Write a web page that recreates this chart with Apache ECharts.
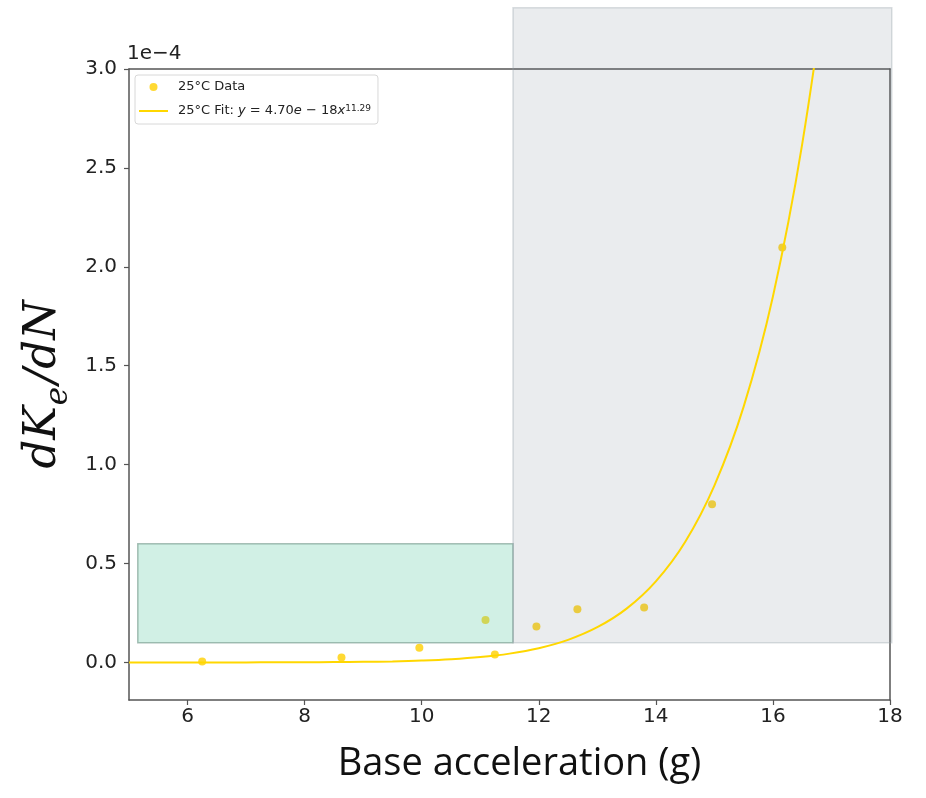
<!DOCTYPE html>
<html>
<head>
<meta charset="utf-8">
<script src="https://cdn.jsdelivr.net/npm/echarts@6/dist/echarts.min.js"></script>
<style>
html,body{margin:0;padding:0;background:#fff;}
#chart{width:926px;height:798px;}
</style>
</head>
<body>
<div id="chart"></div>
<script>
// ---- data (y values in units of 1e-4) ----
const dataX = [6.25, 8.63, 9.96, 11.09, 11.25, 11.96, 12.66, 13.80, 14.96, 16.16];
const dataY = [0.005, 0.025, 0.074, 0.215, 0.040, 0.182, 0.269, 0.278, 0.799, 2.098];
const fitX = [5, 5.5, 6, 6.5, 7, 7.5, 8, 8.5, 9, 9.5, 10, 10.5, 11, 11.5, 12, 12.5, 13, 13.5, 14, 14.5, 15, 15.5, 16, 16.5, 17];
const fitY = [0.0000, 0.0000, 0.0000, 0.0001, 0.0002, 0.0004, 0.0007, 0.0015, 0.0028, 0.0051, 0.0092, 0.0159, 0.0269, 0.0445, 0.0719, 0.114, 0.178, 0.272, 0.410, 0.609, 0.894, 1.293, 1.85, 2.62, 3.66];
// shaded regions: [x0, x1, y0, y1]
const regionGreen = [5.15, 11.56, 0.10, 0.60];
const regionGrey = [11.56, 18.03, 0.10, 3.31];
const xTicks = [6, 8, 10, 12, 14, 16, 18];
const yTicks = [0.0, 0.5, 1.0, 1.5, 2.0, 2.5, 3.0];
const dataName = '25°C Data';
const fitName = '25°C Fit';

const chart = echarts.init(document.getElementById('chart'));
const axisColor = '#555';
const regionStyles = [
  {fill: 'rgba(102,205,170,0.30)', stroke: 'rgba(100,140,125,0.55)'},
  {fill: 'rgba(112,128,144,0.15)', stroke: 'rgba(150,160,170,0.35)'}
];

chart.setOption({
  animation: false,
  backgroundColor: '#fff',
  title: {
    text: '1e\u22124', left: 127, top: 44, padding: 0,
    textStyle: {fontFamily: 'DejaVu Sans', fontSize: 20, fontWeight: 'normal', color: '#222'}
  },
  grid: {left: 129, right: 36, top: 69, bottom: 98, containLabel: false},
  legend: {
    left: 135, top: 75, orient: 'vertical',
    padding: [5, 7, 6, 4],
    itemWidth: 29, itemHeight: 8, itemGap: 10,
    borderColor: '#d8d8d8', borderWidth: 1, borderRadius: 3,
    backgroundColor: 'rgba(255,255,255,0.85)',
    textStyle: {
      fontFamily: 'DejaVu Sans', fontSize: 13, lineHeight: 14, color: '#222', padding: [0, 0, 0, 5],
      rich: {
        i: {fontFamily: 'DejaVu Sans', fontStyle: 'italic', fontSize: 13, color: '#222'},
        sup: {fontFamily: 'DejaVu Sans', fontSize: 9, color: '#222', verticalAlign: 'top', padding: [0, 0, 7, 0]}
      }
    },
    data: [
      {name: dataName, icon: 'circle', itemStyle: {color: '#FFD000'}},
      {name: fitName, icon: 'path://M0,0 L100,0 L100,7 L0,7 Z', itemStyle: {color: '#FFD700'}}
    ],
    formatter: function (name) {
      if (name === fitName) return name + ': {i|y} = 4.70{i|e} \u2212 18{i|x}{sup|11.29}';
      return name;
    }
  },
  xAxis: [{
    type: 'value', min: 5, max: 18, position: 'bottom',
    name: 'Base acceleration (g)', nameLocation: 'middle', nameGap: 45,
    nameTextStyle: {fontFamily: 'Open Sans', fontSize: 38, color: '#111', padding: [0, 0, 0, 20]},
    axisLine: {show: true, onZero: false, lineStyle: {color: axisColor, width: 1.5}},
    axisTick: {show: true, length: 5, customValues: xTicks, lineStyle: {color: axisColor, width: 1.2}},
    axisLabel: {customValues: xTicks, margin: 7, fontFamily: 'DejaVu Sans', fontSize: 20, color: '#222'},
    splitLine: {show: false}
  }, {
    type: 'value', min: 5, max: 18, position: 'top',
    axisLine: {show: true, onZero: false, lineStyle: {color: axisColor, width: 1.5}},
    axisTick: {show: false}, axisLabel: {show: false}, splitLine: {show: false}
  }],
  yAxis: [{
    type: 'value', min: -0.19, max: 3.0, position: 'left',
    name: '{n|dK}{s|e}{n|/dN}', nameLocation: 'middle', nameGap: 52, nameRotate: 90,
    nameTextStyle: {
      rich: {
        n: {fontFamily: 'DejaVu Serif', fontStyle: 'italic', fontSize: 45, lineHeight: 46, verticalAlign: 'top', color: '#111'},
        s: {fontFamily: 'DejaVu Serif', fontStyle: 'italic', fontSize: 31, lineHeight: 31, verticalAlign: 'top', padding: [22, 3, 0, 1], color: '#111'}
      }
    },
    axisLine: {show: true, onZero: false, lineStyle: {color: axisColor, width: 1.5}},
    axisTick: {show: true, length: 5, customValues: yTicks, lineStyle: {color: axisColor, width: 1.2}},
    axisLabel: {customValues: yTicks, margin: 12, fontFamily: 'DejaVu Sans', fontSize: 20, color: '#222',
      formatter: v => v.toFixed(1)},
    splitLine: {show: false}
  }, {
    type: 'value', min: -0.19, max: 3.0, position: 'right',
    axisLine: {show: true, onZero: false, lineStyle: {color: axisColor, width: 1.5}},
    axisTick: {show: false}, axisLabel: {show: false}, splitLine: {show: false}
  }],
  series: [
    {
      name: dataName, type: 'scatter', z: 2,
      symbol: 'circle', symbolSize: 8,
      itemStyle: {color: '#FFD000'},
      data: dataX.map((x, i) => [x, dataY[i]])
    },
    {
      type: 'custom', z: 3, clip: false, silent: true,
      encode: {x: [0, 1], y: [2, 3]},
      renderItem: function (params, api) {
        const p0 = api.coord([api.value(0), api.value(3)]);
        const p1 = api.coord([api.value(1), api.value(2)]);
        const st = regionStyles[params.dataIndex];
        return {
          type: 'rect',
          shape: {x: p0[0], y: p0[1], width: p1[0] - p0[0], height: p1[1] - p0[1]},
          style: {fill: st.fill, stroke: st.stroke, lineWidth: 1.5}
        };
      },
      data: [regionGreen, regionGrey]
    },
    {
      name: fitName, type: 'line', z: 4, clip: true,
      symbol: 'none', smooth: 0.4,
      lineStyle: {color: '#FFD700', width: 2},
      itemStyle: {color: '#FFD700'},
      data: fitX.map((x, i) => [x, fitY[i]])
    }
  ]
});
</script>
</body>
</html>
